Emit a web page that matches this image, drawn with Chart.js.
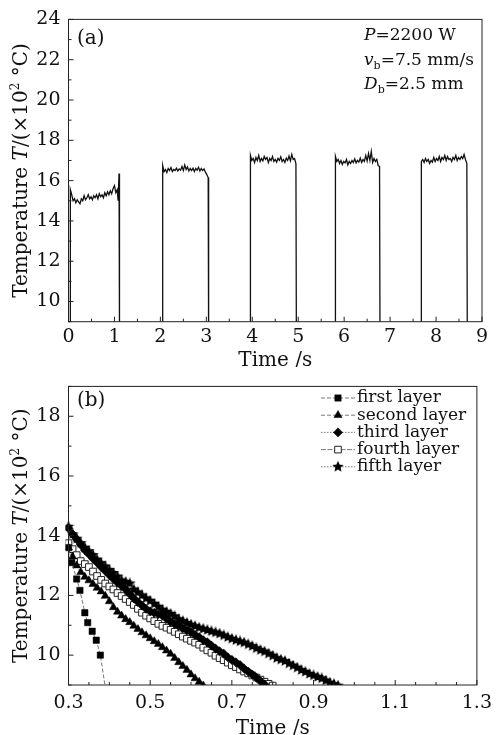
<!DOCTYPE html>
<html>
<head>
<meta charset="utf-8">
<script src="https://cdn.jsdelivr.net/npm/chart.js@4.4.0/dist/chart.umd.min.js"></script>
<style>
  body { margin: 0; background: #fff; }
  #wrap { position: relative; width: 499px; height: 735px; }
  canvas { position: absolute; left: 0; }
</style>
</head>
<body>
<div id="wrap">
  <canvas id="chartA" width="499" height="367" style="top:0"></canvas>
  <canvas id="chartB" width="499" height="368" style="top:367px"></canvas>
</div>
<script>
// ---- panel (a): temperature trace, five pulses ----
const pulse1Time = [0.04, 0.04,
  0.07, 0.10, 0.13, 0.16, 0.19, 0.22, 0.25, 0.28, 0.31, 0.34,
  0.37, 0.40, 0.43, 0.46, 0.49, 0.52, 0.55, 0.58, 0.61, 0.64,
  0.67, 0.70, 0.73, 0.76, 0.79, 0.82, 0.85, 0.88, 0.91, 0.94,
  0.97, 1.00, 1.03, 1.06, 1.08, 1.10, 1.11];
const pulse1Temp = [8.0, 15.55,
  15.3, 15.0, 15.1, 14.9, 15.05, 14.95, 14.85, 15.1, 15.0, 15.25,
  15.05, 15.15, 15.3, 15.1, 15.2, 15.05, 15.25, 15.15, 15.3, 15.1,
  15.35, 15.2, 15.3, 15.15, 15.4, 15.25, 15.45, 15.3, 15.5, 15.35,
  15.6, 15.75, 15.4, 15.55, 15.0, 16.35, 8.0];

const pulse2Time = [2.05, 2.05,
  2.08, 2.11, 2.14, 2.17, 2.20, 2.23, 2.26, 2.29, 2.32, 2.35,
  2.38, 2.41, 2.44, 2.47, 2.50, 2.53, 2.56, 2.59, 2.62, 2.65,
  2.68, 2.71, 2.74, 2.77, 2.80, 2.83, 2.86, 2.89, 2.92, 2.95,
  2.98, 3.01, 3.04, 3.05];
const pulse2Temp = [8.0, 16.75,
  16.45, 16.55, 16.4, 16.6, 16.5, 16.65, 16.45, 16.55, 16.5, 16.62,
  16.48, 16.58, 16.52, 16.7, 16.5, 16.78, 16.55, 16.68, 16.48, 16.6,
  16.5, 16.62, 16.45, 16.6, 16.52, 16.66, 16.48, 16.6, 16.5, 16.58,
  16.42, 16.3, 16.15, 8.0];

const pulse3Time = [3.96, 3.96,
  3.99, 4.02, 4.05, 4.08, 4.11, 4.14, 4.17, 4.20, 4.23, 4.26,
  4.29, 4.32, 4.35, 4.38, 4.41, 4.44, 4.47, 4.50, 4.53, 4.56,
  4.59, 4.62, 4.65, 4.68, 4.71, 4.74, 4.77, 4.80, 4.83, 4.86,
  4.89, 4.92, 4.95, 4.96];
const pulse3Temp = [8.0, 17.25,
  17.0, 17.1, 16.9, 17.15, 17.0, 17.25, 16.95, 17.1, 16.98, 17.2,
  17.05, 17.15, 16.9, 17.1, 17.0, 17.2, 16.95, 17.05, 16.92, 17.1,
  17.0, 17.18, 16.95, 17.05, 16.9, 17.12, 17.0, 17.22, 16.98, 17.3,
  17.05, 17.1, 16.85, 8.0];

const pulse4Time = [5.81, 5.81,
  5.84, 5.87, 5.90, 5.93, 5.96, 5.99, 6.02, 6.05, 6.08, 6.11,
  6.14, 6.17, 6.20, 6.23, 6.26, 6.29, 6.32, 6.35, 6.38, 6.41,
  6.44, 6.47, 6.50, 6.53, 6.56, 6.59, 6.62, 6.65, 6.68, 6.71,
  6.74, 6.77, 6.78];
const pulse4Temp = [8.0, 17.2,
  16.95, 17.05, 16.85, 17.0, 16.8, 16.95, 16.88, 17.05, 16.78, 16.95,
  16.85, 17.0, 16.9, 17.08, 16.88, 17.0, 16.92, 17.12, 16.9, 17.05,
  16.95, 17.25, 16.98, 17.35, 17.0, 17.45, 16.9, 17.1, 16.95, 17.05,
  16.75, 16.7, 8.0];

const pulse5Time = [7.68, 7.68,
  7.71, 7.74, 7.77, 7.80, 7.83, 7.86, 7.89, 7.92, 7.95, 7.98,
  8.01, 8.04, 8.07, 8.10, 8.13, 8.16, 8.19, 8.22, 8.25, 8.28,
  8.31, 8.34, 8.37, 8.40, 8.43, 8.46, 8.49, 8.52, 8.55, 8.58,
  8.61, 8.64, 8.67, 8.68];
const pulse5Temp = [8.0, 16.95,
  17.05, 16.9, 17.1, 16.95, 17.05, 16.85, 17.0, 16.92, 17.15, 16.95,
  17.1, 17.0, 17.2, 16.95, 17.15, 17.05, 17.25, 17.0, 17.2, 17.05,
  17.1, 16.95, 17.15, 17.05, 17.25, 17.0, 17.15, 17.05, 17.2, 17.1,
  17.3, 17.05, 16.85, 8.0];

const topTimeLabels = [0, 1, 2, 3, 4, 5, 6, 7, 8, 9];
const topTempLabels = [10, 12, 14, 16, 18, 20, 22, 24];

// ---- panel (b): cooling curves of the layers ----
const layerNames = ['first layer', 'second layer', 'third layer', 'fourth layer', 'fifth layer'];

const firstTime = [0.30, 0.308, 0.32, 0.328, 0.34, 0.347, 0.358, 0.368, 0.378, 0.392];
const firstTemp = [13.6, 13.1, 12.55, 12.17, 11.42, 11.09, 10.8, 10.5, 10.0, 8.75];

const layerTime = [
  0.30, 0.31, 0.32, 0.33, 0.34, 0.35, 0.36, 0.37, 0.38, 0.39,
  0.40, 0.41, 0.42, 0.43, 0.44, 0.45, 0.46, 0.47, 0.48, 0.49,
  0.50, 0.51, 0.52, 0.53, 0.54, 0.55, 0.56, 0.57, 0.58, 0.59,
  0.60, 0.61, 0.62, 0.63, 0.64, 0.65, 0.66, 0.67, 0.68, 0.69,
  0.70, 0.71, 0.72, 0.73, 0.74, 0.75, 0.76, 0.77, 0.78, 0.79,
  0.80, 0.81, 0.82, 0.83, 0.84, 0.85, 0.86, 0.87, 0.88, 0.89,
  0.90, 0.91, 0.92, 0.93, 0.94, 0.95, 0.96];

const secondTemp = [
  13.6, 13.3, 13.0, 12.78, 12.62, 12.5, 12.38, 12.25, 12.13, 11.98,
  11.8, 11.6, 11.45, 11.32, 11.2, 11.1, 10.98, 10.87, 10.76, 10.66,
  10.56, 10.46, 10.37, 10.26, 10.15, 10.04, 9.9, 9.76, 9.63, 9.5,
  9.35, 9.22, 9.1, 8.98];

const thirdTemp = [
  14.25, 14.05, 13.88, 13.7, 13.52, 13.38, 13.23, 13.1, 12.95, 12.82,
  12.68, 12.55, 12.43, 12.32, 12.2, 12.05, 11.9, 11.78, 11.66, 11.55,
  11.47, 11.42, 11.37, 11.32, 11.22, 11.12, 11.05, 10.98, 10.9, 10.83,
  10.77, 10.68, 10.6, 10.5, 10.43, 10.32, 10.22, 10.13, 10.05, 9.93,
  9.84, 9.76, 9.67, 9.55, 9.45, 9.35, 9.25, 9.13, 9.02];

const fourthTemp = [
  13.75, 13.55, 13.35, 13.15, 13.05, 12.95, 12.8, 12.65, 12.52, 12.4,
  12.3, 12.2, 12.08, 11.98, 11.88, 11.78, 11.68, 11.55, 11.42, 11.32,
  11.23, 11.14, 11.05, 10.98, 10.92, 10.85, 10.78, 10.7, 10.62, 10.55,
  10.48, 10.42, 10.35, 10.25, 10.16, 10.08, 9.98, 9.9, 9.83, 9.75,
  9.66, 9.6, 9.52, 9.45, 9.39, 9.32, 9.25, 9.18, 9.11, 9.04,
  8.98];

const fifthTemp = [
  14.3, 14.05, 13.9, 13.75, 13.6, 13.48, 13.35, 13.2, 13.08, 12.97,
  12.85, 12.75, 12.63, 12.5, 12.45, 12.4, 12.2, 12.1, 12.0, 11.9,
  11.82, 11.72, 11.62, 11.52, 11.45, 11.38, 11.3, 11.2, 11.14, 11.08,
  11.02, 10.97, 10.92, 10.88, 10.84, 10.8, 10.76, 10.72, 10.66, 10.6,
  10.55, 10.5, 10.46, 10.42, 10.36, 10.3, 10.23, 10.17, 10.12, 10.05,
  9.98, 9.9, 9.85, 9.8, 9.72, 9.65, 9.58, 9.5, 9.44, 9.37,
  9.32, 9.27, 9.22, 9.15, 9.08, 9.03, 8.98];

const bottomTimeLabels = [0.3, 0.5, 0.7, 0.9, 1.1, 1.3];
const bottomTempLabels = [10, 12, 14, 16, 18];

const SERIF = "'DejaVu Serif', serif";

function toPoints(times, temps) {
  return temps.map((v, i) => ({ x: times[i], y: v }));
}

function labelFrom(list, digits) {
  return function (value) {
    const hit = list.find(v => Math.abs(v - value) < 1e-6);
    return hit === undefined ? '' : hit.toFixed(digits);
  };
}

// filled five-point star used as a point style
function makeStar(size) {
  const c = document.createElement('canvas');
  c.width = size; c.height = size;
  const g = c.getContext('2d');
  const r = size / 2, ri = r * 0.45;
  g.beginPath();
  for (let k = 0; k < 10; k++) {
    const rr = k % 2 === 0 ? r : ri;
    const ang = -Math.PI / 2 + k * Math.PI / 5;
    g.lineTo(r + rr * Math.cos(ang), r + rr * Math.sin(ang));
  }
  g.closePath();
  g.fillStyle = '#000';
  g.fill();
  return c;
}
const starImg = makeStar(12);

// text with mixed fonts (italic letters, sub/superscripts)
function richText(ctx, parts, x, y, align) {
  let total = 0;
  parts.forEach(p => { ctx.font = p[1]; total += ctx.measureText(p[0]).width; });
  let cx = align === 'center' ? x - total / 2 : x;
  parts.forEach(p => {
    ctx.font = p[1];
    ctx.fillText(p[0], cx, y + (p[2] || 0));
    cx += ctx.measureText(p[0]).width;
  });
}

function yTitleParts() {
  return [
    ['Temperature ', '20px ' + SERIF],
    ['T', 'italic 20px ' + SERIF],
    ['/(×10', '20px ' + SERIF],
    ['2', '12px ' + SERIF, -8],
    [' °C)', '20px ' + SERIF]
  ];
}

// box around the plot with inward tick marks on bottom and left
const frameTicks = {
  id: 'frameTicks',
  afterDraw(chart) {
    const { ctx, chartArea: a, scales } = chart;
    ctx.save();
    ctx.strokeStyle = '#222';
    ctx.lineWidth = 1;
    ctx.strokeRect(a.left, a.top, a.right - a.left, a.bottom - a.top);
    scales.x.ticks.forEach((t, i) => {
      const px = scales.x.getPixelForTick(i);
      const len = t.label !== '' ? 5 : 3;
      ctx.beginPath(); ctx.moveTo(px, a.bottom); ctx.lineTo(px, a.bottom - len); ctx.stroke();
    });
    scales.y.ticks.forEach((t, i) => {
      const py = scales.y.getPixelForTick(i);
      const len = t.label !== '' ? 5 : 3;
      ctx.beginPath(); ctx.moveTo(a.left, py); ctx.lineTo(a.left + len, py); ctx.stroke();
    });
    ctx.restore();
  }
};

function axisTitles(chart, xBaseline) {
  const { ctx, chartArea: a } = chart;
  ctx.save();
  ctx.fillStyle = '#111';
  ctx.textBaseline = 'alphabetic';
  ctx.textAlign = 'left';
  richText(ctx, [['Time /s', '20px ' + SERIF]], (a.left + a.right) / 2, xBaseline, 'center');
  ctx.translate(27, (a.top + a.bottom) / 2);
  ctx.rotate(-Math.PI / 2);
  richText(ctx, yTitleParts(), 0, 0, 'center');
  ctx.restore();
}

const textA = {
  id: 'textA',
  afterDraw(chart) {
    const ctx = chart.ctx;
    axisTitles(chart, 366);
    ctx.save();
    ctx.fillStyle = '#111';
    ctx.textAlign = 'left';
    ctx.textBaseline = 'alphabetic';
    richText(ctx, [['(a)', '20px ' + SERIF]], 77, 44);
    const f = '17px ' + SERIF, fi = 'italic 17px ' + SERIF, fs = '11px ' + SERIF;
    richText(ctx, [['P', fi], ['=2200 W', f]], 364, 40);
    richText(ctx, [['v', fi], ['b', fs, 4], ['=7.5 mm/s', f]], 364, 65);
    richText(ctx, [['D', fi], ['b', fs, 4], ['=2.5 mm', f]], 364, 89);
    ctx.restore();
  }
};

const textB = {
  id: 'textB',
  afterDraw(chart) {
    const ctx = chart.ctx;
    axisTitles(chart, 367);
    ctx.save();
    ctx.fillStyle = '#111';
    ctx.textAlign = 'left';
    ctx.textBaseline = 'alphabetic';
    richText(ctx, [['(b)', '20px ' + SERIF]], 77, 39);
    // legend: line – marker – line, then the name
    chart.data.datasets.forEach((ds, i) => {
      const y = 31 + i * 17.2;
      ctx.save();
      ctx.strokeStyle = ds.borderColor;
      ctx.lineWidth = ds.borderWidth;
      ctx.setLineDash(ds.borderDash || []);
      ctx.beginPath(); ctx.moveTo(321, y); ctx.lineTo(355, y); ctx.stroke();
      ctx.restore();
      ctx.save();
      ctx.fillStyle = ds.pointBackgroundColor;
      ctx.strokeStyle = ds.pointBorderColor;
      ctx.lineWidth = ds.pointBorderWidth;
      Chart.helpers.drawPoint(ctx, {
        pointStyle: ds.pointStyle, radius: ds.pointRadius,
        rotation: 0, borderWidth: ds.pointBorderWidth
      }, 338, y);
      ctx.restore();
      ctx.font = '17px ' + SERIF;
      ctx.textBaseline = 'middle';
      ctx.fillText(layerNames[i], 357, y);
    });
    ctx.restore();
  }
};

function fixedY(width) {
  return function (scale) { scale.width = width; };
}
function fixedX(height) {
  return function (scale) { scale.height = height; };
}

const tickFont = { family: SERIF, size: 19 };

// ---- chart (a) ----
const pulseData = [].concat(
  toPoints(pulse1Time, pulse1Temp),
  toPoints(pulse2Time, pulse2Temp),
  toPoints(pulse3Time, pulse3Temp),
  toPoints(pulse4Time, pulse4Temp),
  toPoints(pulse5Time, pulse5Temp)
);

new Chart(document.getElementById('chartA'), {
  type: 'line',
  data: {
    datasets: [{
      data: pulseData,
      borderColor: '#111',
      borderWidth: 1.3,
      pointRadius: 0,
      tension: 0,
      fill: false,
      clip: 0
    }]
  },
  options: {
    responsive: false,
    animation: false,
    events: [],
    layout: { padding: { top: 18, right: 17, left: 0, bottom: 0 } },
    plugins: { legend: { display: false }, tooltip: { enabled: false } },
    scales: {
      x: {
        type: 'linear', min: 0, max: 9,
        grid: { display: false, drawTicks: false },
        border: { display: false },
        afterFit: fixedX(45.3),
        ticks: {
          stepSize: 0.5, autoSkip: false, maxRotation: 0, padding: 4,
          color: '#111', font: tickFont,
          callback: labelFrom(topTimeLabels, 0)
        }
      },
      y: {
        min: 9, max: 24,
        grid: { display: false, drawTicks: false },
        border: { display: false },
        afterFit: fixedY(68.5),
        ticks: {
          stepSize: 1, autoSkip: false, padding: 8,
          color: '#111', font: tickFont,
          callback: labelFrom(topTempLabels, 0)
        }
      }
    }
  },
  plugins: [frameTicks, textA]
});

// ---- chart (b) ----
const lineGray = '#555';
const datasetsB = [
  { data: toPoints(firstTime, firstTemp), pointStyle: 'rect', pointRadius: 4.5,
    pointBackgroundColor: '#000', pointBorderColor: '#000', pointBorderWidth: 0.5,
    borderColor: lineGray, borderWidth: 0.8, borderDash: [4, 2] },
  { data: toPoints(layerTime, secondTemp), pointStyle: 'triangle', pointRadius: 4.7,
    pointBackgroundColor: '#000', pointBorderColor: '#000', pointBorderWidth: 0.5,
    borderColor: lineGray, borderWidth: 0.8, borderDash: [4, 2] },
  { data: toPoints(layerTime, thirdTemp), pointStyle: 'rectRot', pointRadius: 4.6,
    pointBackgroundColor: '#000', pointBorderColor: '#000', pointBorderWidth: 0.5,
    borderColor: lineGray, borderWidth: 0.8, borderDash: [1.5, 1.5] },
  { data: toPoints(layerTime, fourthTemp), pointStyle: 'rect', pointRadius: 4.7,
    pointBackgroundColor: '#fff', pointBorderColor: '#222', pointBorderWidth: 1,
    borderColor: lineGray, borderWidth: 0.8, borderDash: [5, 1.5] },
  { data: toPoints(layerTime, fifthTemp), pointStyle: starImg, pointRadius: 5,
    pointBackgroundColor: '#000', pointBorderColor: '#000', pointBorderWidth: 0.5,
    borderColor: lineGray, borderWidth: 0.8, borderDash: [1.5, 1.5] }
];
datasetsB.forEach((ds, i) => {
  ds.label = layerNames[i];
  ds.tension = 0;
  ds.fill = false;
  ds.clip = { left: 3, top: 0, right: 0, bottom: 0 };
});

new Chart(document.getElementById('chartB'), {
  type: 'line',
  data: { datasets: datasetsB },
  options: {
    responsive: false,
    animation: false,
    events: [],
    layout: { padding: { top: 15, right: 17, left: 0, bottom: 0 } },
    plugins: { legend: { display: false }, tooltip: { enabled: false } },
    scales: {
      x: {
        type: 'linear', min: 0.3, max: 1.3,
        grid: { display: false, drawTicks: false },
        border: { display: false },
        afterFit: fixedX(50),
        ticks: {
          stepSize: 0.05, autoSkip: false, maxRotation: 0, padding: 7,
          color: '#111', font: tickFont,
          callback: labelFrom(bottomTimeLabels, 1)
        }
      },
      y: {
        min: 9, max: 19,
        grid: { display: false, drawTicks: false },
        border: { display: false },
        afterFit: fixedY(68.5),
        ticks: {
          stepSize: 1, autoSkip: false, padding: 8,
          color: '#111', font: tickFont,
          callback: labelFrom(bottomTempLabels, 0)
        }
      }
    }
  },
  plugins: [frameTicks, textB]
});
</script>
</body>
</html>
